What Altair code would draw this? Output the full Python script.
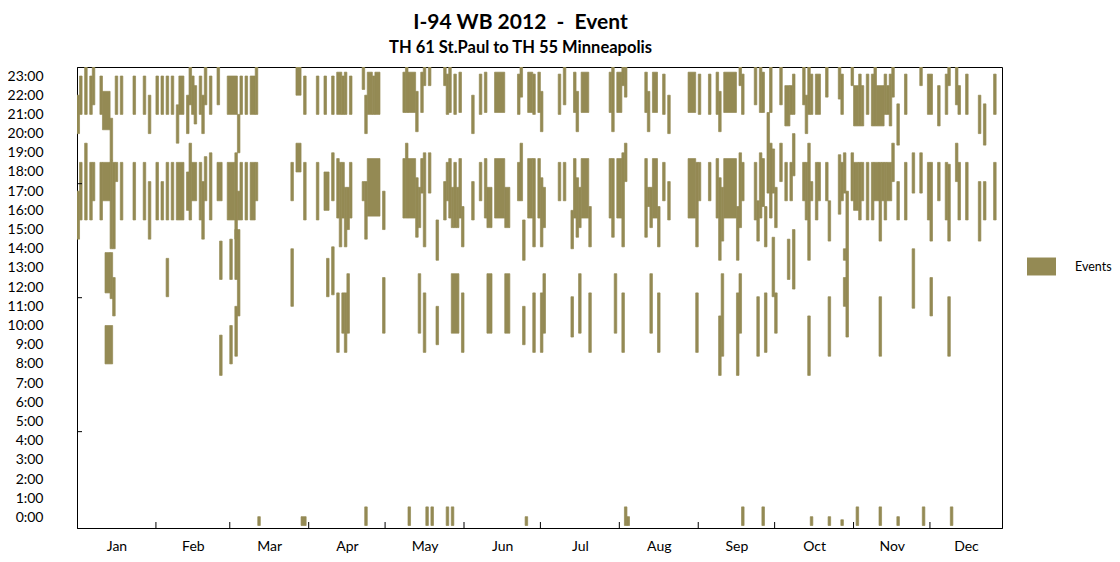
import json
import altair as alt
import pandas as pd

# ---------------- labels / axes ----------------
month_labels = ["Jan", "Feb", "Mar", "Apr", "May", "Jun", "Jul", "Aug", "Sep", "Oct", "Nov", "Dec"]
month_starts = [0, 31, 60, 91, 121, 152, 182, 213, 244, 274, 305, 335]   # day index, 0 = Jan 1 2012
axis_last_day = 363.3
hour_values = list(range(24))
y_domain = [-0.55, 23.47]
odd_axis_marks = [17.39, 11.45, 4.47]
series_name = "Events"
bar_color = "#948A54"

# ---------------- events: (day index, start hour, end hour) ----------------
evening_events = [
    (0, 20, 22), (1, 21, 23), (3, 21, 23.5), (5, 21, 23), (6, 21.5, 23.5), (9, 21, 23),
    (10, 20.2, 22.2), (11, 20.2, 22.2), (12, 20.2, 22.2), (13, 18.6, 20.8), (15, 21, 23),
    (17, 21, 23), (22, 21, 23), (26, 21, 23), (28, 20, 22), (31, 21, 23), (33, 21, 23),
    (35, 21, 23), (37, 21, 23), (39, 19.5, 21.5), (40, 21, 23), (41, 21, 23), (43, 20, 22),
    (44, 21.5, 23.5), (45, 21, 23), (46, 20.5, 22.5), (48, 21, 23), (49, 20, 22),
    (50, 21.5, 23.5), (52, 21, 23), (55, 21.5, 23.5), (59, 21, 23), (60, 21, 23), (61, 21, 23),
    (62, 21, 23), (63, 19, 21), (64, 21, 23), (66, 21, 23), (68, 21, 23), (69, 21, 23),
    (70, 21, 23.5), (86, 22, 23.5), (87, 22, 23.5), (89, 21, 23), (94, 21, 23), (97, 21, 23),
    (100, 21, 23), (102, 21, 23.2), (103, 21, 23.2), (104, 21, 23), (105, 21, 23.2),
    (107, 21, 23), (112, 22.3, 23.5), (113, 20, 22), (114, 21, 23.2), (115, 21, 23.2),
    (116, 21, 23), (117, 21, 23.2), (118, 21, 23.2),
    (128, 21.1, 23.2), (129, 21.1, 23.5), (130, 21.1, 23.2), (131, 21.1, 23.2), (132, 21.1, 23.2),
    (133, 20.1, 22.2), (135, 21.1, 23.2), (136, 22.5, 23.5), (138, 22.5, 23.5), (144, 22.5, 23.5),
    (145, 21, 23.1), (146, 21.1, 23.5), (148, 21, 23.1), (150, 21.1, 23.2), (155, 20, 22),
    (158, 21, 23.1), (160, 21.1, 23.2), (164, 21.1, 23.2), (165, 21.1, 23.2), (166, 21.1, 23.2),
    (167, 21.1, 23.2), (173, 21, 23.1), (174, 21.9, 23.5), (177, 21.1, 23.2), (178, 21.1, 23.2),
    (179, 21, 23.1), (181, 21.1, 23.2), (182, 20.1, 22.2), (189, 21, 23.1), (191, 21.5, 23.5),
    (195, 21.1, 23.2), (196, 20.1, 22.2), (198, 21.1, 23.2), (199, 21.1, 23.2), (200, 21.1, 23.2),
    (209, 21.1, 23.2), (210, 20.1, 23.5), (212, 21.1, 23.2), (213, 21.1, 23.2), (214, 22.5, 23.5),
    (215, 21.9, 23.5), (223, 21.1, 23.2), (224, 20.1, 22.2), (226, 21.1, 23.2), (227, 21.1, 23.2),
    (230, 21, 23.1), (232, 20, 22), (240, 21.1, 23.2), (241, 21.1, 23.2), (242, 21.1, 23.2),
    (244, 21, 23.1), (248, 21, 23.1), (251, 21, 23.2), (252, 20.1, 22.2), (254, 21.1, 23.2),
    (255, 21.1, 23.2), (256, 21.1, 23.2), (257, 21.1, 23.2), (258, 21.1, 23.2), (260, 22.5, 23.5),
    (261, 21, 23.1), (266, 21.5, 23.5), (268, 21.1, 23.5), (269, 21.1, 23.2), (272, 21.1, 23.5),
    (276, 21.5, 23.5), (278, 20.4, 22.5), (279, 20.4, 22.5), (280, 21, 22.5), (281, 21, 23.1),
    (285, 21.5, 23.5), (286, 20, 22), (287, 21, 23.5), (288, 21, 23.1), (290, 21, 23.1),
    (291, 21, 23.1), (294, 21.9, 23.5), (299, 21.8, 23.5), (300, 21, 23.1), (304, 22.5, 23.5),
    (305, 20.4, 22.5), (306, 20.4, 22.5), (307, 20.4, 23.1), (308, 20.4, 22.5), (310, 21, 23.1),
    (312, 20.4, 23.1), (313, 20.4, 23.5), (314, 20.4, 22.5), (315, 20.4, 22.5), (316, 20.4, 22.5),
    (317, 21, 23.1), (318, 21, 22.5), (319, 20.4, 23.1), (320, 21.9, 23.5), (322, 19.4, 21.55),
    (325, 21, 23.1), (331, 22.5, 23.5), (334, 21, 23.1), (335, 21, 23.1), (338, 20.4, 22.5),
    (341, 21, 23.1), (342, 22.5, 23.5), (345, 21.5, 23.5), (346, 21, 22.5), (349, 21, 23.1),
    (354, 20, 22), (356, 19.4, 21.55), (360, 21, 23.1),
]

afternoon_events = [
    (0, 14.5, 17), (1, 15.5, 18.5), (3, 15.5, 19.5), (5, 15.5, 18.5), (6, 16.5, 18.5),
    (9, 15.5, 18.5), (10, 16.5, 18.5), (11, 16.5, 18.5), (12, 16.5, 18.5), (13, 14, 18.6),
    (14, 14, 18.5), (15, 17.5, 18.5), (17, 15.5, 18.5), (22, 15.5, 18.5), (26, 15.5, 18.5),
    (28, 14.5, 17.5), (31, 15.5, 18.5), (33, 15.5, 17.5), (35, 15.5, 18.5), (37, 15.5, 18.5),
    (39, 15.5, 18.5), (40, 15.5, 18.5), (41, 15.5, 18.5), (43, 16, 18), (44, 15.5, 19.5),
    (45, 16.5, 18.5), (46, 16.5, 18.5), (48, 15.5, 18.5), (49, 14.5, 17.5), (50, 16.5, 18.8),
    (52, 15.5, 19), (55, 16.5, 18.5), (56, 16.5, 18.5), (59, 15.5, 18.5), (60, 15.5, 18.5),
    (61, 15.5, 18.5), (62, 14.5, 19), (63, 15.5, 17), (64, 15.5, 18.5), (66, 15.5, 18.5),
    (68, 15.5, 18.5), (69, 15.5, 18.5), (70, 16.5, 18.5), (84, 16.5, 18.5), (86, 18, 19.5),
    (87, 18, 19.5), (89, 15.5, 18.5), (94, 15.5, 18.5), (97, 16, 18), (98, 16, 18),
    (100, 16.5, 19), (102, 15.6, 18.7), (103, 14.1, 18.5), (104, 15.6, 18.5), (105, 14.1, 17.2),
    (106, 15, 17.2), (107, 15.6, 18.5), (112, 16.5, 17.5), (113, 14.5, 17.5), (114, 15.7, 18.7),
    (115, 15.7, 18.7), (116, 15.7, 18.7), (117, 15.7, 18.7), (118, 15.7, 18.7), (120, 15, 17),
    (128, 15.6, 18.7), (129, 15.6, 19.5), (130, 15.6, 18.7), (131, 15.6, 18.7), (132, 15.6, 18.7),
    (133, 14.6, 17.7), (134, 15.1, 17.2), (135, 16.9, 18.7), (136, 14.1, 19), (138, 16.9, 19),
    (141, 13.4, 15.5), (144, 15.5, 17.5), (145, 16.5, 18.5), (146, 15.6, 18.7), (147, 15.1, 17.2),
    (148, 15.1, 18.5), (149, 15.1, 17.2), (150, 15.6, 18.7), (151, 14.1, 16.2), (155, 15.5, 17.5),
    (158, 16.5, 18.5), (160, 15.6, 18.7), (161, 15.1, 17.2), (162, 15.1, 17.2), (164, 15.6, 18.7),
    (165, 15.6, 18.7), (166, 15.6, 18.7), (167, 15.6, 18.7), (168, 15.1, 17.2), (169, 15.1, 17.2),
    (173, 16.5, 18.5), (174, 16.5, 19.5), (175, 13.4, 15.5), (177, 15.6, 18.7), (178, 15.6, 18.7),
    (179, 14.1, 18.7), (181, 15.6, 18.7), (182, 14.1, 17.7), (183, 15.1, 17.2), (189, 16.5, 18.5),
    (191, 16.5, 18.5), (194, 14, 16), (195, 15.6, 18.7), (196, 14.6, 17.7), (197, 15.1, 17.2),
    (198, 15.6, 18.7), (199, 15.6, 18.7), (200, 15.6, 18.7), (201, 14.1, 16.2), (209, 15.6, 18.7),
    (210, 14.6, 18.7), (212, 15.6, 18.7), (213, 15.6, 18.7), (214, 14.1, 19), (215, 17.5, 19.5),
    (223, 14.6, 18.7), (224, 16.2, 17.2), (225, 15.1, 17.2), (226, 15.6, 18.7), (227, 15.6, 18.7),
    (228, 14.1, 16.2), (230, 16.5, 18.5), (232, 15.5, 17.5), (240, 15.6, 18.7), (241, 15.6, 18.7),
    (242, 15.6, 18.7), (243, 14.1, 18.5), (244, 16.5, 18.5), (248, 16.5, 18.5), (251, 15.6, 18.7),
    (252, 13.4, 17.7), (253, 14.4, 17.2), (254, 15.6, 18.7), (255, 15.6, 18.7), (256, 15.6, 18.7),
    (257, 15.6, 18.7), (258, 15.6, 18.7), (259, 13.4, 16.2), (260, 15.1, 19), (261, 16.5, 18.5),
    (266, 15.5, 18.5), (267, 14.4, 16.5), (268, 15.6, 19), (269, 16.2, 18.7), (270, 14.1, 16.2),
    (271, 16.9, 21.1), (272, 15.6, 19.5), (273, 16.9, 19.2), (274, 15.1, 17.2), (276, 17.5, 19.5),
    (278, 16.5, 18.5), (280, 16.5, 18.5), (281, 17.8, 20), (285, 16.5, 18.5), (286, 15.5, 18.5),
    (287, 13.4, 19.5), (288, 16.5, 17.5), (290, 15.5, 18.5), (291, 16.5, 18.5), (294, 16.5, 18.5),
    (295, 14.4, 16.5), (299, 15.8, 18.9), (300, 16.5, 18.5), (301, 16.9, 19), (302, 9.4, 17),
    (304, 16.5, 19), (305, 16, 18.5), (306, 16, 18.5), (307, 15.5, 18.5), (308, 16.5, 18.5),
    (310, 15.5, 18.5), (312, 15.5, 18.5), (313, 16.5, 18.5), (314, 16.5, 18.5), (315, 14.4, 18.5),
    (316, 16.5, 18.5), (317, 15.5, 18.5), (318, 16.5, 18.5), (319, 16.5, 18.5), (320, 17.5, 19.5),
    (322, 15.5, 17.5), (325, 15.5, 18.5), (328, 16.9, 19), (331, 16.9, 19), (334, 15.5, 18.5),
    (335, 14.4, 18.5), (338, 16.5, 18.5), (341, 15.5, 18.5), (342, 14.4, 18.4), (345, 17.5, 19.5),
    (346, 15.5, 18.5), (349, 15.5, 18.5), (354, 14.4, 17.5), (356, 15.5, 17.5), (360, 15.5, 18.5),
]

morning_events = [
    (11, 11.7, 13.8), (12, 11.7, 13.8), (13, 11.4, 13.8), (11, 8, 10), (12, 8, 10), (13, 8, 10),
    (14, 10.5, 12.5), (35, 11.5, 13.5), (56, 12.4, 14.4), (56, 7.4, 9.5), (60, 12.4, 14.5),
    (60, 8, 10), (62, 12.4, 15), (62, 8.4, 11), (63, 10.5, 15), (84, 11, 14), (98, 11.5, 13.5),
    (100, 11.6, 14.1), (102, 8.6, 11.7), (104, 9.6, 11.7), (105, 8.6, 11.7), (106, 9.6, 12.7),
    (120, 9.6, 12.5), (134, 9.6, 12.7), (136, 8.6, 11.7), (141, 9, 11), (147, 9.6, 12.7),
    (148, 9.6, 12.7), (149, 9.6, 12.7), (151, 8.6, 11.7), (161, 9.6, 12.7), (162, 9.6, 12.7),
    (168, 9.6, 12.7), (169, 9.6, 12.7), (175, 9, 11), (179, 8.6, 11.7), (182, 8.6, 11.7),
    (183, 9.6, 12.7), (194, 9.4, 11.5), (197, 9.6, 12.7), (201, 8.6, 11.7), (211, 9.6, 12.7),
    (214, 8.6, 11.7), (225, 9.6, 12.7), (228, 8.6, 11.7), (243, 8.6, 11.7), (252, 7.4, 10.5),
    (253, 8.4, 12.7), (259, 7.4, 11.7), (260, 9.6, 12.7), (267, 8.4, 11.5), (270, 8.6, 11.7),
    (273, 11.5, 14.6), (274, 9.6, 11.7), (279, 12.4, 14.5), (281, 11.9, 15), (287, 7.4, 10.5),
    (295, 8.4, 11.5), (301, 11, 12.5), (301, 13.4, 14), (315, 8.4, 11.5), (328, 10.9, 14),
    (335, 10.5, 12.5), (342, 8.4, 11.5),
]

midnight_events = [
    (71, -0.42, 0.04), (88, -0.42, 0.04), (89, -0.42, 0.04), (113, -0.42, 0.55),
    (130, -0.42, 0.55), (137, -0.42, 0.55), (139, -0.42, 0.55), (145, -0.42, 0.55),
    (147, -0.42, 0.55), (176, -0.42, 0.04), (215, -0.42, 0.55), (216, -0.42, 0.04),
    (261, -0.42, 0.55), (269, -0.42, 0.55), (288, -0.42, 0.04), (295, -0.42, 0.04),
    (300, -0.42, -0.12), (306, -0.42, 0.55), (315, -0.42, 0.55), (322, -0.42, 0.04),
    (332, -0.42, 0.55), (343, -0.42, 0.55),
]

# ---------------- tables ----------------
# consecutive days with the same interval are joined into one block (no seams)
rows = []
for band, events in [("evening", evening_events), ("afternoon", afternoon_events),
                     ("morning", morning_events), ("midnight", midnight_events)]:
    runs = []
    for d, s, e in sorted(events, key=lambda t: (t[1], t[2], t[0])):
        if runs and runs[-1]["start"] == s and runs[-1]["end"] == e and runs[-1]["day_end"] == d:
            runs[-1]["day_end"] = d + 1
        else:
            runs.append({"day": d, "day_end": d + 1, "start": s, "end": e,
                         "band": band, "series": series_name})
    rows.extend(runs)
df = pd.DataFrame(rows)

month_mids = []
for i, s in enumerate(month_starts):
    nxt = month_starts[i + 1] if i + 1 < len(month_starts) else axis_last_day
    month_mids.append((s + nxt) / 2)

ticks_df = pd.DataFrame({"day": month_starts[1:]})
odd_df = pd.DataFrame({"hour": odd_axis_marks})

x_scale = alt.Scale(domain=[0, axis_last_day], nice=False, zero=False)
y_scale = alt.Scale(domain=y_domain, nice=False, zero=False)

month_expr = json.dumps(month_labels) + "[floor(datum.value / 30.5)]"

x_axis = alt.Axis(values=month_mids, labelExpr=month_expr, title=None, ticks=False,
                  grid=False, domainColor="black", domainWidth=1, labelFont="Lato",
                  labelFontSize=14, labelColor="black", labelPadding=11, labelAngle=0,
                  labelFlush=False, labelOverlap=False)
y_axis = alt.Axis(values=hour_values, labelExpr="datum.value + ':00'", title=None,
                  ticks=False, grid=False, domainColor="black", domainWidth=1,
                  labelFont="Lato", labelFontSize=14, labelColor="black",
                  labelPadding=34, labelFlush=False, labelOverlap=False)

bars = alt.Chart(df).mark_rect(clip=True, stroke=bar_color, strokeWidth=0.7).encode(
    x=alt.X("day:Q", scale=x_scale, axis=x_axis),
    x2="day_end:Q",
    y=alt.Y("start:Q", scale=y_scale, axis=y_axis),
    y2="end:Q",
    color=alt.Color("series:N", scale=alt.Scale(domain=[series_name], range=[bar_color]),
                    legend=alt.Legend(title=None, orient="none", legendX=950, legendY=185,
                                      symbolType="M-1,-0.62L1,-0.62L1,0.62L-1,0.62Z",
                                      symbolSize=841, symbolStrokeWidth=0, symbolOpacity=1,
                                      labelFont="Lato", labelFontSize=12.5, labelColor="black",
                                      labelOffset=19, padding=0)),
)

month_ticks = alt.Chart(ticks_df).mark_rule(color="black", strokeWidth=1).encode(
    x=alt.X("day:Q", scale=x_scale, axis=x_axis),
    y=alt.value(461), y2=alt.value(455),
)

odd_ticks = alt.Chart(odd_df).mark_rule(color="black", strokeWidth=1).encode(
    y=alt.Y("hour:Q", scale=y_scale, axis=y_axis),
    x=alt.value(0), x2=alt.value(5),
)

chart = alt.layer(bars, month_ticks, odd_ticks).properties(
    width=925, height=461,
    autosize=alt.AutoSizeParams(type="none"),
    padding={"left": 69, "top": 59, "right": 110, "bottom": 26},
    title=alt.TitleParams(
        text="I-94 WB 2012\u00a0\u00a0-\u00a0\u00a0Event",
        subtitle="TH 61 St.Paul to TH 55 Minneapolis",
        font="Lato", fontSize=21, fontWeight="bold", color="black",
        subtitleFont="Lato", subtitleFontSize=16.5, subtitleFontWeight="bold",
        subtitleColor="black", anchor="middle", dx=-19, offset=11, subtitlePadding=7,
        frame="group",
    ),
).configure_view(stroke="black", strokeWidth=1)

chart.save("out.html", embed_options={"renderer": "svg", "actions": False})
